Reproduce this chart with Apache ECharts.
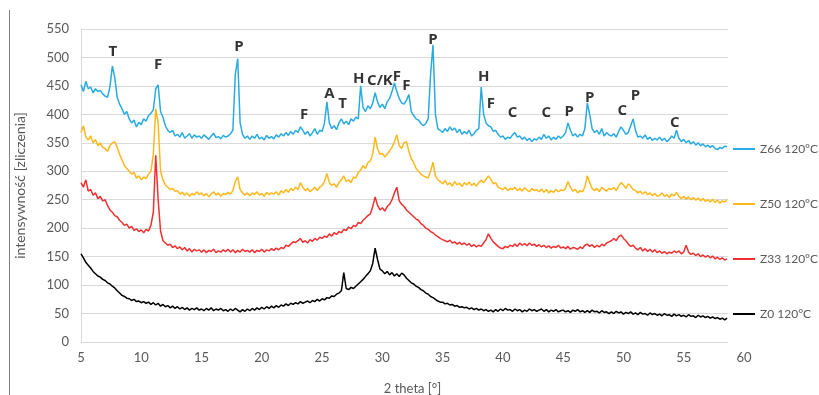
<!DOCTYPE html>
<html>
<head>
<meta charset="utf-8">
<script src="https://cdn.jsdelivr.net/npm/echarts@6/dist/echarts.min.js"></script>
<style>
  html, body { margin: 0; padding: 0; background: #fff; }
  #chart { width: 819px; height: 395px; }
</style>
</head>
<body>
<div id="chart"></div>
<script>
// 2θ grid: 5.0 .. 58.6 in 0.2° steps
const thetaStart = 5.0;
const thetaStep = 0.2;

const z66 = [
  452, 440, 458, 445, 448, 438, 445, 440, 442, 436,
  432, 430, 448, 485, 465, 430, 418, 410, 400, 405,
  392, 385, 390, 378, 386, 382, 392, 388, 398, 402,
  408, 445, 452, 405, 395, 380, 372, 368, 372, 362,
  365, 360, 368, 358, 362, 366, 358, 364, 360, 362,
  358, 364, 360, 356, 362, 367, 359, 361, 357, 363,
  360, 362, 366, 372, 470, 498, 385, 365, 358, 362,
  356, 362, 358, 365, 357, 360, 355, 363, 358, 361,
  357, 364, 360, 366, 362, 368, 363, 370, 365, 372,
  368, 378, 372, 365, 370, 362, 368, 375, 365, 372,
  370, 385, 422, 385, 375, 380, 373, 385, 392, 383,
  388, 382, 392, 388, 395, 392, 450, 412, 405, 415,
  410, 420, 438, 422, 412, 418, 410, 422, 428, 440,
  455, 440, 428, 420, 418, 425, 435, 405, 398, 392,
  390, 384, 380, 384, 392, 470, 522, 400, 375, 372,
  368, 375, 370, 378, 372, 376, 368, 374, 365, 370,
  366, 372, 362, 366, 372, 375, 448, 400, 385, 380,
  378, 370, 372, 365, 360, 362, 356, 360, 358, 364,
  368, 360, 362, 356, 360, 354, 358, 352, 357, 355,
  360, 356, 365, 358, 362, 355, 360, 356, 362, 358,
  362, 368, 385, 372, 362, 366, 360, 365, 362, 375,
  420, 400, 375, 368, 372, 365, 375, 362, 368, 364,
  362, 366, 360, 370, 378, 372, 365, 368, 380, 392,
  372, 360, 362, 358, 364, 356, 360, 354, 358, 355,
  360, 354, 358, 352, 356, 362, 358, 372, 358, 352,
  356, 350, 354, 348, 352, 346, 350, 345, 348, 343,
  346, 342, 345, 340, 338, 342, 340, 344, 343
];

const z50 = [
  368, 380, 360, 355, 362, 350, 356, 345, 350, 342,
  340, 335, 345, 350, 352, 342, 330, 320, 310, 305,
  300, 295, 298, 288, 292, 285, 290, 287, 295, 300,
  330, 410, 385, 300, 285, 276, 272, 268, 270, 265,
  266, 260, 263, 258, 262, 256, 261, 258, 264, 259,
  262, 257, 261, 255, 260, 264, 258, 262, 256, 261,
  259, 263, 260, 266, 282, 290, 268, 262, 258, 262,
  257, 262, 259, 264, 258, 261, 256, 263, 259, 262,
  260, 264, 258, 266, 262, 268, 263, 270, 266, 272,
  268, 280, 272, 266, 270, 264, 268, 272, 266, 272,
  275, 282, 296, 280, 275, 278, 272, 280, 285, 292,
  282, 285, 280, 290, 288, 298, 302, 310, 305, 315,
  318, 330, 360, 340, 330, 332, 325, 330, 336, 342,
  352, 364, 345, 340, 350, 352, 335, 322, 315, 305,
  300, 295, 292, 290, 288, 300, 316, 292, 285, 282,
  278, 284, 276, 280, 274, 282, 276, 279, 273, 280,
  276, 281, 275, 279, 274, 280, 284, 280, 286, 292,
  286, 278, 280, 272, 270, 268, 272, 266, 270, 268,
  272, 266, 270, 265, 271, 267, 264, 270, 266, 268,
  264, 269, 263, 268, 262, 266, 263, 268, 264, 267,
  266, 270, 282, 272, 265, 268, 262, 266, 264, 272,
  292, 280, 270, 266, 270, 264, 272, 268, 265, 270,
  268, 272, 266, 274, 280, 276, 270, 278, 274, 268,
  266, 262, 265, 260, 264, 259, 262, 257, 261, 256,
  258, 262, 256, 259, 254, 260, 257, 263, 256, 252,
  256, 251, 255, 250, 254, 249, 253, 248, 252, 247,
  250, 246, 251, 245, 249, 244, 248, 246, 250
];

const z33 = [
  280, 272, 285, 265, 268, 258, 262, 252, 256, 248,
  250, 240, 232, 228, 222, 220, 214, 210, 205, 207,
  200, 203, 196, 199, 194, 197, 192, 198, 195, 205,
  228, 328, 250, 195, 178, 174, 170, 172, 166, 169,
  164, 167, 162, 166, 160, 164, 158, 163, 160, 162,
  158, 162, 157, 161, 159, 163, 157, 160, 158, 162,
  159, 163, 158, 162, 157, 161, 158, 163, 159, 161,
  158, 162, 157, 161, 159, 163, 158, 162, 160, 164,
  161, 165, 162, 166, 164, 170, 168, 172, 176, 175,
  178, 182, 175, 178, 174, 180, 177, 182, 179, 184,
  182, 186, 184, 190, 186, 192, 189, 194, 192, 198,
  196, 202, 199, 205, 203, 210, 208, 214, 218, 222,
  225, 238, 255, 240, 232, 236, 230, 238, 242, 250,
  262, 272, 248, 242, 238, 232, 228, 224, 220, 216,
  214, 208, 205, 200, 198, 194, 192, 188, 185, 182,
  180, 178, 176, 179, 174, 176, 172, 175, 171, 174,
  170, 173, 168, 171, 167, 170, 168, 174, 180, 190,
  182, 176, 172, 168, 165, 164, 168, 166, 170, 168,
  172, 168, 174, 170, 173, 169, 174, 170, 172, 168,
  171, 167, 170, 166, 169, 165, 168, 166, 170, 165,
  167, 164, 168, 163, 166, 165, 163, 167, 164, 170,
  172, 168, 171, 166, 170, 167, 172, 169, 174, 176,
  178, 182, 178, 185, 188, 182, 178, 172, 168, 170,
  165, 162, 166, 160, 164, 159, 163, 158, 162, 157,
  160, 156, 159, 155, 158, 156, 160, 157, 160, 155,
  158, 170, 158, 154, 156, 152, 155, 150, 153, 149,
  152, 148, 151, 146, 149, 145, 148, 144, 146
];

const z0 = [
  155, 148, 140, 135, 130, 124, 120, 116, 114, 110,
  108, 104, 102, 98, 95, 90, 86, 82, 80, 77,
  76, 73, 75, 71, 72, 69, 71, 68, 70, 66,
  69, 65, 68, 63, 66, 62, 64, 60, 63, 59,
  62, 58, 61, 57, 60, 56, 59, 57, 60, 56,
  58, 55, 59, 56, 60, 55, 58, 56, 59, 55,
  57, 54, 58, 55, 59, 56, 53, 57, 54, 58,
  55, 59, 56, 60, 57, 61, 58, 62, 59, 63,
  60, 64, 61, 65, 63, 67, 64, 68, 66, 69,
  67, 71, 68, 70, 72, 69, 73, 71, 75, 72,
  76, 74, 78, 77, 81, 80, 84, 86, 90, 122,
  94, 92, 96, 94, 98, 102, 106, 110, 115, 120,
  125, 138, 165, 145, 128, 125, 120, 124, 118, 122,
  116, 120, 115, 121, 118, 112, 108, 104, 102, 98,
  96, 92, 90, 86, 84, 80, 78, 75, 72, 70,
  70, 67, 68, 65, 66, 63, 64, 61, 62, 60,
  61, 58, 60, 57, 59, 56, 58, 55, 57, 54,
  56, 53, 57, 54, 58, 55, 59, 56, 57, 54,
  58, 55, 57, 53, 56, 54, 58, 55, 57, 54,
  56, 58, 54, 57, 53, 56, 54, 57, 53, 55,
  56, 53, 55, 52, 56, 54, 57, 53, 55, 52,
  55, 52, 56, 53, 54, 51, 55, 52, 53, 50,
  53, 50, 54, 51, 53, 49, 52, 50, 53, 49,
  51, 48, 52, 49, 50, 47, 51, 48, 50, 47,
  49, 46, 50, 47, 48, 45, 49, 46, 48, 45,
  47, 44, 48, 45, 46, 43, 47, 44, 46, 43,
  45, 42, 44, 41, 43, 40, 42, 39, 42
];

const seriesNames = ['Z66 120°C', 'Z50 120°C', 'Z33 120°C', 'Z0 120°C'];
const seriesColors = ['#29abe2', '#ffb81c', '#f03030', '#000000'];

// phase labels: [2θ, intensity, letter]
const phaseLabels = [
  [7.65, 510, 'T'], [11.4, 487, 'F'], [18.1, 518, 'P'], [23.5, 399, 'F'],
  [25.6, 436, 'A'], [26.7, 418, 'T'], [28.05, 462, 'H'], [29.8, 459, 'C/K'],
  [31.2, 467, 'F'], [32.0, 450, 'F'], [34.2, 531, 'P'], [38.4, 466, 'H'],
  [39.0, 418, 'F'], [40.8, 402, 'C'], [43.6, 402, 'C'], [45.5, 404, 'P'],
  [47.2, 430, 'P'], [49.9, 406, 'C'], [51.0, 432, 'P'], [54.25, 385, 'C']
];

const yTicks = [0, 50, 100, 150, 200, 250, 300, 350, 400, 450, 500, 550];
const gridEnd = 58.7;

const toPairs = (vals) => vals.map((v, i) => [+(thetaStart + i * thetaStep).toFixed(1), v]);

const chart = echarts.init(document.getElementById('chart'));
const font = 'Lato, "Noto Sans", sans-serif';

const lineSeries = [z66, z50, z33, z0].map((vals, i) => ({
  name: seriesNames[i],
  type: 'line',
  data: toPairs(vals),
  showSymbol: false,
  symbol: 'none',
  z: 10 - i,
  lineStyle: { color: seriesColors[i], width: 1.5 },
  itemStyle: { color: seriesColors[i] },
  animation: false
}));

// horizontal gridlines stop where the data ends (Excel style)
lineSeries[3].markLine = {
  silent: true,
  symbol: 'none',
  label: { show: false },
  lineStyle: { color: '#d9d9d9', width: 1, type: 'solid' },
  data: yTicks.map(v => [{ coord: [thetaStart, v] }, { coord: [gridEnd, v] }])
};

const option = {
  animation: false,
  grid: { left: 81, right: 75, top: 29, bottom: 53, containLabel: false, outerBoundsMode: 'none' },
  legend: {
    orient: 'vertical',
    left: 728,
    top: 138,
    itemWidth: 22,
    itemHeight: 14,
    itemGap: 43,
    icon: 'path://M0,6 L22,6 L22,8 L0,8 Z',
    data: seriesNames,
    textStyle: { fontFamily: font, fontSize: 12, color: '#595959' }
  },
  xAxis: {
    type: 'value',
    min: 5,
    max: 60,
    interval: 5,
    name: '2 theta [°]',
    nameLocation: 'middle',
    nameGap: 40,
    nameTextStyle: { fontFamily: font, fontSize: 13, color: '#595959' },
    axisLine: { show: false },
    axisTick: { show: false },
    splitLine: { show: false },
    axisLabel: { fontFamily: font, fontSize: 13, color: '#595959', margin: 9 }
  },
  yAxis: {
    type: 'value',
    min: 0,
    max: 550,
    interval: 50,
    name: 'intensywność [zliczenia]',
    nameLocation: 'middle',
    nameGap: 54,
    nameRotate: 90,
    nameTextStyle: { fontFamily: font, fontSize: 14, color: '#595959' },
    axisLine: { show: true, lineStyle: { color: '#d9d9d9', width: 1 } },
    axisTick: { show: false },
    splitLine: { show: false },
    axisLabel: { fontFamily: font, fontSize: 13, color: '#595959', margin: 12 }
  },
  graphic: [{
    type: 'line',
    shape: { x1: 9.5, y1: 10, x2: 9.5, y2: 395 },
    style: { stroke: '#808080', lineWidth: 1 }
  }],
  series: [
    ...lineSeries,
    {
      name: 'labels',
      type: 'scatter',
      data: phaseLabels.map(p => ({ value: [p[0], p[1]], label: { formatter: p[2] } })),
      symbolSize: 1,
      itemStyle: { color: 'rgba(0,0,0,0)' },
      silent: true,
      z: 20,
      label: {
        show: true,
        position: 'inside',
        fontFamily: '"Open Sans", "Noto Sans", sans-serif',
        fontSize: 15,
        fontWeight: 'bold',
        color: '#000'
      }
    }
  ]
};

chart.setOption(option);
</script>
</body>
</html>
